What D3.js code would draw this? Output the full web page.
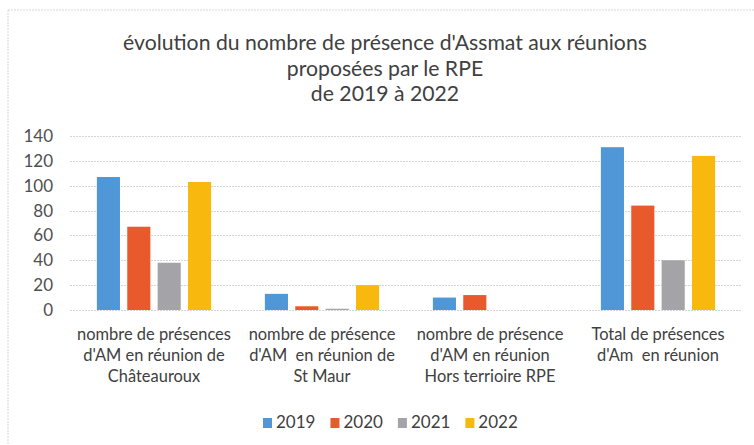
<!DOCTYPE html>
<html>
<head>
<meta charset="utf-8">
<script src="https://d3js.org/d3.v7.min.js"></script>
<style>
    body {
        margin: 0;
        background: #fff;
    }
    svg text {
        font-family: Lato, "Open Sans", sans-serif;
        fill: #404040;
    }
</style>
</head>
<body>
<script>

// chart data
var years = ["2019", "2020", "2021", "2022"];
var categories = ["chateauroux", "stmaur", "hors", "total"];
var catLabels = [
    ["nombre de présences", "d'AM en réunion de", "Châteauroux"],
    ["nombre de présence", "d'AM  en réunion de", "St Maur"],
    ["nombre de présence", "d'AM en réunion", "Hors terrioire RPE"],
    ["Total de présences", "d'Am  en réunion"]
];
var v2019 = [107, 13, 10, 131];
var v2020 = [67, 3, 12, 84];
var v2021 = [38, 1, 0, 40];
var v2022 = [103, 20, 0, 124];
var yTicks = [0, 20, 40, 60, 80, 100, 120, 140];
var titleLines = ["évolution du nombre de présence d'Assmat aux réunions",
                  "proposées par le RPE",
                  "de 2019 à 2022"];

var series = [v2019, v2020, v2021, v2022];
var colors = ["#5097d8", "#e8592b", "#a4a4a8", "#f8b80e"];

var width = 754, height = 445;

var svg = d3.select("body").append("svg")
    .attr("width", width)
    .attr("height", height);

// faint chart border (top + left only visible in the scan)
svg.append("line")
    .attr("x1", 8).attr("x2", width).attr("y1", 10).attr("y2", 10)
    .style("stroke", "#d6d6d6").style("stroke-dasharray", "2,1");
svg.append("line")
    .attr("x1", 8).attr("x2", 8).attr("y1", 10).attr("y2", height)
    .style("stroke", "#d6d6d6").style("stroke-dasharray", "2,1");

var y = d3.scaleLinear().domain([0, 140]).range([310, 136]);

var x0 = d3.scaleBand()
    .domain(categories)
    .range([70, 742])
    .paddingInner(0.32)
    .paddingOuter(0.16);

var x1 = d3.scaleBand()
    .domain(years)
    .range([0, x0.bandwidth()])
    .paddingInner(0.24);

// fit a text to a wanted width by changing the font size
function fitSize(sel, target) {
    var w = sel.node().getComputedTextLength();
    var fs = parseFloat(sel.style("font-size"));
    return fs * target / w;
}

// title
var title = svg.append("g");
var titleY = [50, 76, 101];
titleLines.forEach(function(t, i) {
    title.append("text")
        .attr("x", 385)
        .attr("y", titleY[i])
        .attr("text-anchor", "middle")
        .style("font-size", "20px")
        .text(t);
});
var tfs = fitSize(title.select("text"), 524);
title.selectAll("text").style("font-size", tfs + "px");

// gridlines
svg.append("g")
    .selectAll("line")
    .data(yTicks)
    .enter().append("line")
    .attr("x1", 70)
    .attr("x2", 742)
    .attr("y1", function(d) { return Math.round(y(d)) + 0.5; })
    .attr("y2", function(d) { return Math.round(y(d)) + 0.5; })
    .style("stroke", "#d4d4d4")
    .style("stroke-dasharray", "2,1");

// y axis labels
svg.append("g")
    .selectAll("text")
    .data(yTicks)
    .enter().append("text")
    .attr("x", 53)
    .attr("y", function(d) { return y(d); })
    .attr("dy", "0.35em")
    .attr("text-anchor", "end")
    .style("font-size", "17px")
    .style("fill", "#505050")
    .text(function(d) { return d; });

// bars
var groups = svg.append("g")
    .selectAll("g")
    .data(categories)
    .enter().append("g")
    .attr("transform", function(d) { return "translate(" + x0(d) + ",0)"; });

groups.selectAll("rect")
    .data(function(d, i) {
        return years.map(function(yr, j) { return {year: yr, value: series[j][i], color: colors[j]}; });
    })
    .enter().append("rect")
    .filter(function(d) { return d.value > 0; })
    .attr("x", function(d) { return x1(d.year); })
    .attr("y", function(d) { return y(d.value); })
    .attr("width", x1.bandwidth())
    .attr("height", function(d) { return y(0) - y(d.value); })
    .style("fill", function(d) { return d.color; });

// category labels
var labY = [340, 361, 382];
var labels = svg.append("g")
    .selectAll("g")
    .data(categories)
    .enter().append("g");

labels.each(function(d, i) {
    var g = d3.select(this);
    catLabels[i].forEach(function(line, k) {
        g.append("text")
            .attr("x", x0(d) + x0.bandwidth() / 2)
            .attr("y", labY[k])
            .attr("text-anchor", "middle")
            .style("font-size", "16px")
            .style("white-space", "pre")
            .text(line);
    });
});
var lfs = fitSize(labels.select("text"), 154);
labels.selectAll("text").style("font-size", lfs + "px");

// legend
var legend = svg.append("g");
var items = legend.selectAll("g")
    .data(years)
    .enter().append("g");

items.append("rect")
    .attr("y", 418)
    .attr("width", 9)
    .attr("height", 10)
    .style("fill", function(d, i) { return colors[i]; });

items.append("text")
    .attr("x", 13)
    .attr("y", 428)
    .style("font-size", "17px")
    .text(function(d) { return d; });

var lx = 263;
items.each(function() {
    var it = d3.select(this);
    it.attr("transform", "translate(" + lx + ",0)");
    lx += 13 + it.select("text").node().getComputedTextLength() + 15;
});

</script>
</body>
</html>
